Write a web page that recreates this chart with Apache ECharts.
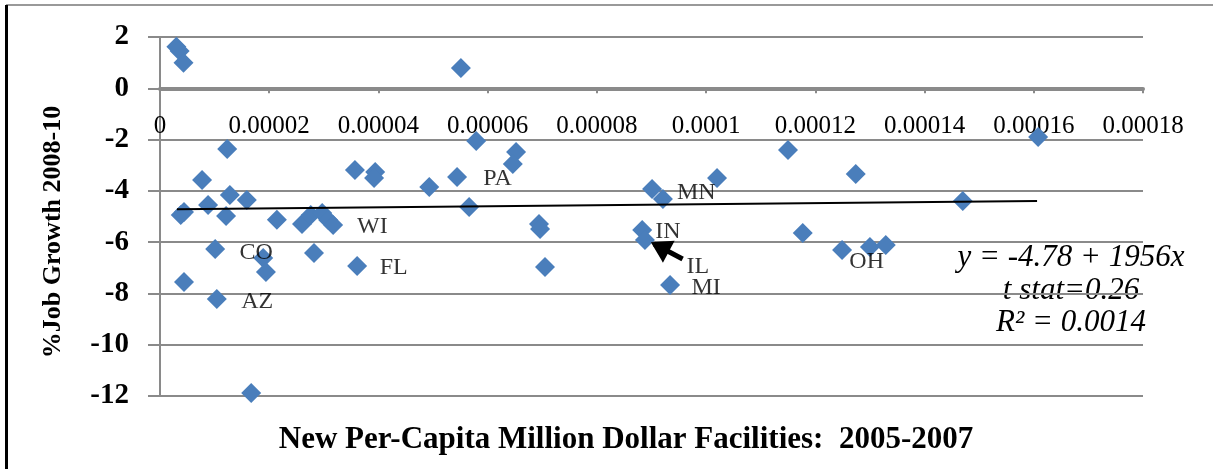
<!DOCTYPE html>
<html>
<head>
<meta charset="utf-8">
<script src="https://cdn.jsdelivr.net/npm/echarts@6/dist/echarts.min.js"></script>
<style>
html,body{margin:0;padding:0;background:#fff;}
#main{width:1213px;height:469px;}
</style>
</head>
<body>
<div id="main"></div>
<script>
// Scatter points: [per-capita million dollar facilities, % job growth 2008-10]
const points = [
  [3.0e-6, 1.62], [3.6e-6, 1.45], [4.3e-6, 1.0],
  [5.51e-5, 0.79],
  [1.23e-5, -2.37], [5.79e-5, -2.06], [6.52e-5, -2.48], [6.46e-5, -2.95],
  [1.150e-4, -2.41], [1.608e-4, -1.90],
  [7.7e-6, -3.58], [3.57e-5, -3.19], [3.94e-5, -3.26], [3.92e-5, -3.50],
  [4.93e-5, -3.85], [5.44e-5, -3.46],
  [1.28e-5, -4.16], [1.59e-5, -4.36], [8.8e-6, -4.55], [3.8e-6, -4.94],
  [4.4e-6, -4.82], [1.21e-5, -4.98], [2.14e-5, -5.13], [2.6e-5, -5.29],
  [2.76e-5, -4.94], [2.97e-5, -4.86], [3.08e-5, -5.14], [3.17e-5, -5.33],
  [5.66e-5, -4.63], [6.94e-5, -5.29], [6.96e-5, -5.49], [7.05e-5, -6.97],
  [9.01e-5, -3.93], [9.21e-5, -4.32], [1.020e-4, -3.50],
  [8.83e-5, -5.53], [8.88e-5, -5.92], [9.34e-5, -7.67],
  [1.274e-4, -3.34], [1.470e-4, -4.40], [1.177e-4, -5.64],
  [1.249e-4, -6.31], [1.300e-4, -6.19], [1.329e-4, -6.11],
  [1.01e-5, -6.27], [1.89e-5, -6.62], [1.94e-5, -7.16], [2.82e-5, -6.42],
  [3.61e-5, -6.93], [4.4e-6, -7.55], [1.04e-5, -8.22], [1.67e-5, -11.88]
];
// Linear trend line end points
const trendLine = [[3.1e-6, -4.72], [1.606e-4, -4.40]];
// State labels (text centre positions)
const stateNames = ['PA', 'MN', 'IN', 'IL', 'MI', 'WI', 'CO', 'FL', 'AZ', 'OH'];
const stateX = [6.18e-5, 9.82e-5, 9.30e-5, 9.85e-5, 1.0e-4, 3.89e-5, 1.76e-5, 4.28e-5, 1.78e-5, 1.294e-4];
const stateY = [-3.54, -4.08, -5.61, -6.97, -7.79, -5.41, -6.43, -7.01, -8.34, -6.78];
// Arrow annotation (from tail to tip)
const arrowFrom = [9.57e-5, -6.66];
const arrowTo = [9.05e-5, -6.07];
// Regression text
const eqLines = ['y = -4.78 + 1956x', 't stat=0.26', 'R\u00b2 = 0.0014'];
const xTitle = 'New Per-Capita Million Dollar Facilities:  2005-2007';
const yTitle = '%Job Growth 2008-10';
const yMin = -12, yMax = 2, yStep = 2;
const xMin = 0, xMax = 0.00018, xStep = 0.00002;

const chart = echarts.init(document.getElementById('main'));
const serif = '"Liberation Serif", "Times New Roman", serif';
const gridColor = '#8a8a8a';
const gridTop = 37, gridBottom = 73, H = 469;
const plotH = H - gridTop - gridBottom;
const zeroOffset = -plotH * (0 - yMin) / (yMax - yMin);

const option = {
  animation: false,
  backgroundColor: '#fff',
  grid: { left: 160, right: 70, top: gridTop, bottom: gridBottom },
  xAxis: {
    type: 'value', min: xMin, max: xMax, interval: xStep,
    position: 'bottom', offset: zeroOffset, z: 2,
    axisLine: { onZero: false, lineStyle: { color: gridColor, width: 4 } },
    axisTick: { show: true, length: 5, lineStyle: { color: gridColor, width: 2 } },
    splitLine: { show: false },
    axisLabel: {
      margin: 26, color: '#000', fontFamily: serif, fontSize: 25,
      formatter: v => v === 0 ? '0' : String(+v.toFixed(6))
    }
  },
  yAxis: {
    type: 'value', min: yMin, max: yMax, interval: yStep,
    axisLine: { show: true, onZero: false, lineStyle: { color: gridColor, width: 2 } },
    axisTick: { show: true, length: 12, lineStyle: { color: gridColor, width: 2 } },
    splitLine: { show: true, lineStyle: { color: gridColor, width: 2 } },
    axisLabel: { margin: 31, color: '#000', fontFamily: serif, fontSize: 29, fontWeight: 'bold' }
  },
  series: [
    {
      type: 'scatter', data: points, symbol: 'diamond', symbolSize: 20,
      itemStyle: { color: '#4a7ebb', opacity: 1 }, z: 3
    },
    {
      type: 'line', data: trendLine, symbol: 'none',
      lineStyle: { color: '#000', width: 2 }, z: 4
    },
    {
      type: 'scatter', symbolSize: 2, itemStyle: { color: 'rgba(0,0,0,0)' }, silent: true, z: 5,
      data: stateNames.map((n, i) => ({ name: n, value: [stateX[i], stateY[i]] })),
      label: {
        show: true, position: 'inside', formatter: p => p.name,
        color: '#000', fontFamily: serif, fontSize: 24
      }
    }
  ],
  graphic: [
    { type: 'line', shape: { x1: 6, y1: 5, x2: 1213, y2: 5 }, style: { stroke: '#777', lineWidth: 1.5 } },
    { type: 'line', shape: { x1: 6.5, y1: 5, x2: 6.5, y2: 469 }, style: { stroke: '#000', lineWidth: 3 } },
    {
      type: 'text', style: {
        text: xTitle, x: 626, y: 440, textAlign: 'center', textVerticalAlign: 'middle',
        fontFamily: serif, fontSize: 31, fontWeight: 'bold', fill: '#000'
      }
    },
    {
      type: 'text', x: 53, y: 232, rotation: Math.PI / 2, style: {
        text: yTitle, x: 0, y: 0, textAlign: 'center', textVerticalAlign: 'middle',
        fontFamily: serif, fontSize: 26, fontWeight: 'bold', fill: '#000'
      }
    }
  ]
};
eqLines.forEach((t, i) => {
  option.graphic.push({
    type: 'text', style: {
      text: t, x: 1071, y: 258 + i * 32.5, textAlign: 'center', textVerticalAlign: 'middle',
      fontFamily: serif, fontSize: 31, fontStyle: 'italic', fill: '#000'
    }
  });
});
chart.setOption(option);

// Arrow annotation in data coordinates
const p0 = chart.convertToPixel({ gridIndex: 0 }, arrowFrom);
const p1 = chart.convertToPixel({ gridIndex: 0 }, arrowTo);
const ang = Math.atan2(p0[1] - p1[1], p0[0] - p1[0]);
const L = 17, spread = 0.55;
const h1 = [p1[0] + L * Math.cos(ang + spread), p1[1] + L * Math.sin(ang + spread)];
const h2 = [p1[0] + L * Math.cos(ang - spread), p1[1] + L * Math.sin(ang - spread)];
chart.setOption({
  graphic: option.graphic.concat([
    { type: 'polyline', shape: { points: [p0, p1] }, style: { stroke: '#000', lineWidth: 5, lineCap: 'butt' }, z: 10 },
    { type: 'polygon', shape: { points: [h1, p1, h2] }, style: { stroke: '#000', lineWidth: 4, lineJoin: 'miter', fill: '#000' }, z: 10 }
  ])
});
</script>
</body>
</html>
